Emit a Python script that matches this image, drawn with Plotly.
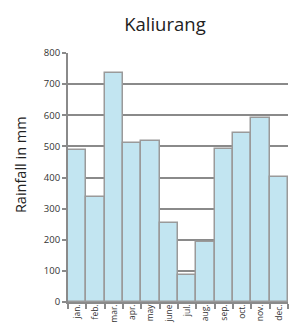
import plotly.graph_objects as go

months = ["jan.", "feb.", "mar.", "apr.", "may", "june", "jul.", "aug.", "sep.", "oct.", "nov.", "dec."]
rainfall = [489, 338, 735, 512, 516, 255, 88, 193, 492, 544, 590, 403]
y_ticks = [0, 100, 200, 300, 400, 500, 600, 700, 800]

fig = go.Figure()
fig.add_trace(go.Bar(
    x=months, y=rainfall,
    marker=dict(color="#c2e5f1", line=dict(color="#9a9a9a", width=1.5)),
))

fig.update_layout(
    width=294, height=326,
    margin=dict(l=68, r=6, t=53, b=24, autoexpand=False),
    paper_bgcolor="white", plot_bgcolor="white",
    bargap=0,
    showlegend=False,
    font=dict(family="Open Sans", color="#333333"),
    title=dict(text="Kaliurang", xref="container", x=0.561, xanchor="center",
               yref="container", y=0.925, yanchor="middle",
               font=dict(size=18.5, color="#222222")),
    xaxis=dict(
        type="category",
        tickangle=-90,
        tickson="boundaries",
        ticks="outside", ticklen=5, tickcolor="#8a8a8a", tickwidth=1.5,
        showline=True, linecolor="#8a8a8a", linewidth=2,
        showgrid=False,
        automargin=False,
        ticklabelstandoff=-3,
        tickfont=dict(size=8.5, color="#333333"),
    ),
    yaxis=dict(
        range=[0, 800],
        tickvals=y_ticks,
        ticks="outside", ticklen=4, tickcolor="#8a8a8a", tickwidth=1.5,
        showline=True, linecolor="#8a8a8a", linewidth=2,
        showgrid=True, gridcolor="#8a8a8a", gridwidth=2,
        zeroline=False,
        automargin=False,
        tickfont=dict(size=9.5, color="#333333"),
    ),
    annotations=[dict(
        text="Rainfall in mm", textangle=-90,
        xref="paper", x=-0.218, xanchor="center",
        yref="paper", y=0.55, yanchor="middle",
        showarrow=False, font=dict(size=14.5, color="#222222"),
    )],
)

fig.write_html("out.html", config={"displayModeBar": False},
               post_script="document.body.style.margin='0';document.body.style.overflow='hidden';")
